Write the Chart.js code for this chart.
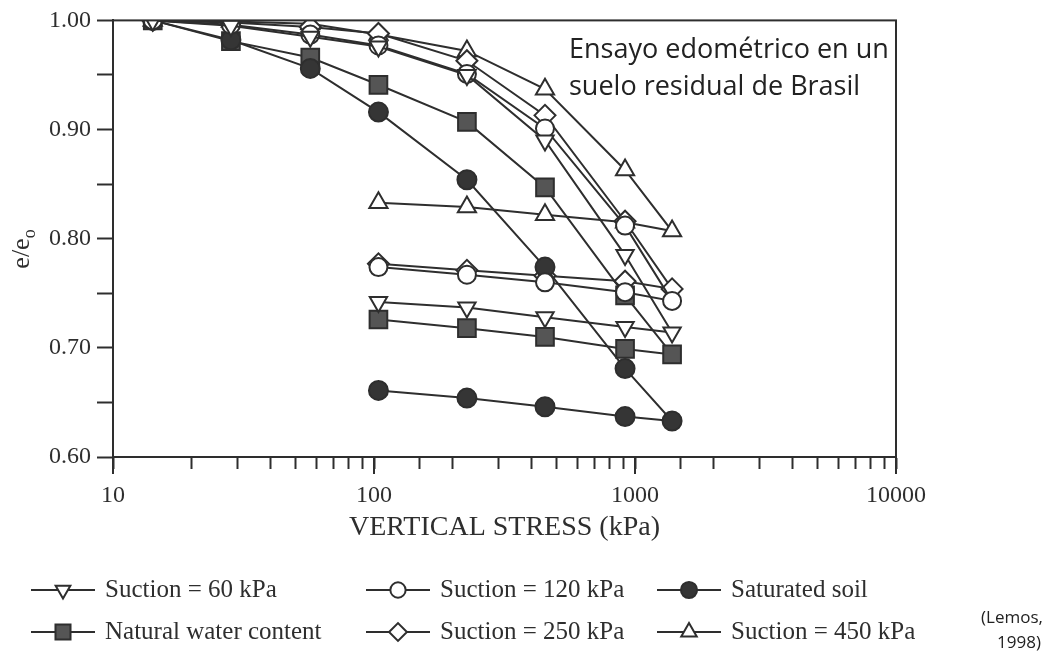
<!DOCTYPE html>
<html>
<head>
<meta charset="utf-8">
<title>Ensayo edométrico</title>
<script src="https://cdn.jsdelivr.net/npm/chart.js@4.4.1/dist/chart.umd.min.js"></script>
<style>
    html, body { margin: 0; padding: 0; background: #fff; }
    #wrap { width: 1061px; height: 655px; }
</style>
</head>
<body>
<div id="wrap"><canvas id="oedoChart" width="1061" height="655"></canvas></div>
<script>
// Tensiones (kPa): carga hasta el máximo y descarga de vuelta a ~100 kPa
const stress = [14.2, 28.3, 57, 104, 227, 452, 916, 1387, 916, 452, 227, 104];

// e/eo de cada ensayo
const suction60  = [1.000, 0.995, 0.985, 0.976, 0.950, 0.890, 0.785, 0.714, 0.719, 0.728, 0.737, 0.742];
const suction120 = [1.000, 0.996, 0.987, 0.977, 0.951, 0.901, 0.812, 0.743, 0.751, 0.760, 0.767, 0.774];
const saturated  = [1.000, 0.982, 0.956, 0.916, 0.854, 0.774, 0.681, 0.633, 0.637, 0.646, 0.654, 0.661];
const natural    = [1.000, 0.981, 0.966, 0.941, 0.907, 0.847, 0.748, 0.694, 0.699, 0.710, 0.718, 0.726];
const suction250 = [1.000, 0.998, 0.994, 0.988, 0.963, 0.913, 0.816, 0.754, 0.761, 0.766, 0.771, 0.777];
const suction450 = [1.000, 0.999, 0.997, 0.987, 0.972, 0.937, 0.863, 0.807, 0.815, 0.822, 0.829, 0.833];

const seriesLabels = ['Suction = 60 kPa', 'Suction = 120 kPa', 'Saturated soil',
                      'Natural water content', 'Suction = 250 kPa', 'Suction = 450 kPa'];

const xTickLabels = [10, 100, 1000, 10000];
const yTickLabels = [0.60, 0.70, 0.80, 0.90, 1.00];

const ink = '#2e2e2e';
const serif = '"Liberation Serif", "Times New Roman", serif';

function toPoints(values) {
    return values.map((v, i) => ({ x: stress[i], y: v }));
}

function makeSet(label, values, style, fill, radius, rotation) {
    return {
        label: label,
        data: toPoints(values),
        borderColor: ink,
        borderWidth: 2,
        pointStyle: style,
        pointRadius: radius,
        pointHoverRadius: radius,
        pointRotation: rotation || 0,
        pointBackgroundColor: fill,
        pointBorderColor: ink,
        pointBorderWidth: 2,
        tension: 0,
        fill: false
    };
}

const datasets = [
    makeSet(seriesLabels[0], suction60, 'triangle', '#fff', 10, 180),
    makeSet(seriesLabels[1], suction120, 'circle', '#fff', 9),
    makeSet(seriesLabels[2], saturated, 'circle', '#353535', 9.5),
    makeSet(seriesLabels[3], natural, 'rect', '#555555', 12.5),
    makeSet(seriesLabels[4], suction250, 'rectRot', '#fff', 10.5),
    makeSet(seriesLabels[5], suction450, 'triangle', '#fff', 10.5)
];

// leyenda propia: línea + marcador, 3 columnas x 2 filas
const legendCols = [31, 366, 657];
const legendRows = [590, 632];

const decorPlugin = {
    id: 'decor',
    afterDraw(chart) {
        const ctx = chart.ctx;
        const a = chart.chartArea;
        const xs = chart.scales.x;
        ctx.save();

        // marco
        ctx.strokeStyle = ink;
        ctx.lineWidth = 2;
        ctx.strokeRect(a.left, a.top, a.right - a.left, a.bottom - a.top);

        // ticks mayores más largos
        xTickLabels.forEach(v => {
            const px = xs.getPixelForValue(v);
            ctx.beginPath();
            ctx.moveTo(px, a.bottom);
            ctx.lineTo(px, a.bottom + 17);
            ctx.stroke();
        });

        // título eje x
        ctx.fillStyle = ink;
        ctx.font = '28px ' + serif;
        ctx.textAlign = 'center';
        ctx.textBaseline = 'middle';
        ctx.fillText('VERTICAL STRESS (kPa)', (a.left + a.right) / 2, 528);

        // título eje y: e/e con subíndice o
        ctx.save();
        ctx.translate(29, 249);
        ctx.rotate(-Math.PI / 2);
        ctx.textAlign = 'left';
        ctx.textBaseline = 'alphabetic';
        ctx.font = '26px ' + serif;
        const w1 = ctx.measureText('e/e').width;
        ctx.font = '18px ' + serif;
        const w2 = ctx.measureText('o').width;
        const x0 = -(w1 + w2) / 2;
        ctx.font = '26px ' + serif;
        ctx.fillText('e/e', x0, 0);
        ctx.font = '18px ' + serif;
        ctx.fillText('o', x0 + w1, 6);
        ctx.restore();

        // anotación
        ctx.fillStyle = '#222';
        ctx.font = '27px "Open Sans", "Noto Sans", sans-serif';
        ctx.textAlign = 'left';
        ctx.textBaseline = 'middle';
        ctx.fillText('Ensayo edométrico en un', 569, 50);
        ctx.fillText('suelo residual de Brasil', 569, 87);

        // fuente
        ctx.font = '17px "Open Sans", "Noto Sans", sans-serif';
        ctx.textAlign = 'right';
        ctx.fillText('(Lemos,', 1043, 618);
        ctx.fillText('1998)', 1041, 643);

        // leyenda
        chart.data.datasets.forEach((ds, i) => {
            const lx = legendCols[i % 3];
            const ly = legendRows[Math.floor(i / 3)];
            ctx.strokeStyle = ink;
            ctx.lineWidth = 2;
            ctx.beginPath();
            ctx.moveTo(lx, ly);
            ctx.lineTo(lx + 64, ly);
            ctx.stroke();
            ctx.fillStyle = ds.pointBackgroundColor;
            ctx.strokeStyle = ink;
            Chart.helpers.drawPoint(ctx, {
                pointStyle: ds.pointStyle,
                radius: ds.pointRadius * 0.85,
                rotation: ds.pointRotation,
                borderWidth: 2
            }, lx + 32, ly);
            ctx.fillStyle = ink;
            ctx.font = '25px ' + serif;
            ctx.textAlign = 'left';
            ctx.textBaseline = 'middle';
            ctx.fillText(ds.label, lx + 74, ly);
        });

        ctx.restore();
    }
};

const ctx = document.getElementById('oedoChart').getContext('2d');
const oedoChart = new Chart(ctx, {
    type: 'line',
    data: { datasets: datasets },
    options: {
        responsive: false,
        animation: false,
        devicePixelRatio: 1,
        layout: {
            padding: { left: 0, top: 20, right: 165, bottom: 98 }
        },
        plugins: {
            legend: { display: false },
            tooltip: { enabled: false },
            title: { display: false }
        },
        scales: {
            x: {
                type: 'logarithmic',
                min: 10,
                max: 10000,
                afterFit(scale) { scale.height = 100; },
                grid: {
                    drawOnChartArea: false,
                    tickLength: 12,
                    tickColor: ink,
                    tickWidth: 2
                },
                border: { color: ink, width: 2 },
                ticks: {
                    autoSkip: false,
                    maxRotation: 0,
                    padding: 12,
                    color: ink,
                    font: { family: serif, size: 24 },
                    callback: v => xTickLabels.includes(v) ? String(v) : ''
                }
            },
            y: {
                min: 0.6,
                max: 1.0,
                afterFit(scale) { scale.width = 113; },
                grid: {
                    drawOnChartArea: false,
                    tickLength: 16,
                    tickColor: ink,
                    tickWidth: 2
                },
                border: { color: ink, width: 2 },
                ticks: {
                    stepSize: 0.05,
                    padding: 6,
                    color: ink,
                    font: { family: serif, size: 24 },
                    callback: v => yTickLabels.some(t => Math.abs(t - v) < 1e-6) ? v.toFixed(2) : ''
                }
            }
        }
    },
    plugins: [decorPlugin]
});
</script>
</body>
</html>
